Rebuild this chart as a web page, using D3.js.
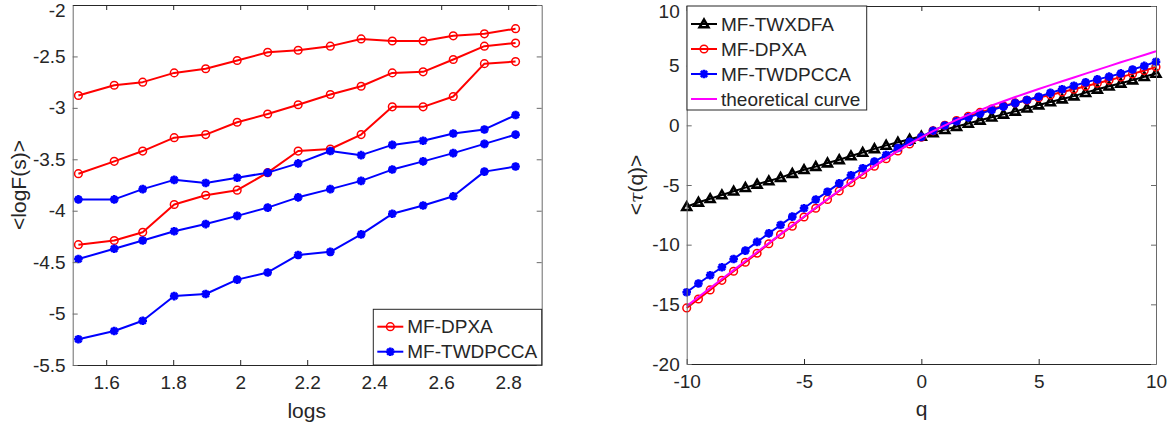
<!DOCTYPE html>
<html><head><meta charset="utf-8">
<script src="https://cdn.jsdelivr.net/npm/d3@7"></script>
<style>
body{margin:0;background:#fff}
svg{display:block}
text{font-family:"Liberation Sans",Arial,Helvetica,sans-serif;fill:#262626}
</style>
</head><body>
<svg id="c" width="1174" height="432"></svg>
<script>
// ---------- Left panel data ----------
const logs = [1.517,1.624,1.709,1.803,1.897,1.991,2.082,2.173,2.269,2.361,2.454,2.546,2.636,2.729,2.822];
const dpxaTop = [-2.88,-2.78,-2.75,-2.66,-2.62,-2.54,-2.46,-2.44,-2.40,-2.33,-2.35,-2.35,-2.30,-2.28,-2.23];
const dpxaMid = [-3.64,-3.52,-3.42,-3.29,-3.26,-3.14,-3.06,-2.97,-2.87,-2.79,-2.66,-2.65,-2.53,-2.40,-2.37];
const dpxaLow = [-4.33,-4.29,-4.21,-3.94,-3.85,-3.80,-3.63,-3.42,-3.40,-3.26,-2.99,-2.99,-2.89,-2.57,-2.55];
const twdTop  = [-3.89,-3.89,-3.79,-3.70,-3.73,-3.68,-3.63,-3.54,-3.42,-3.46,-3.36,-3.32,-3.25,-3.21,-3.07];
const twdMid  = [-4.47,-4.37,-4.29,-4.20,-4.13,-4.05,-3.97,-3.87,-3.79,-3.71,-3.60,-3.52,-3.44,-3.35,-3.26];
const twdLow  = [-5.25,-5.17,-5.07,-4.83,-4.81,-4.67,-4.60,-4.43,-4.40,-4.23,-4.03,-3.95,-3.86,-3.62,-3.57];
const leftXTicks = [1.6,1.8,2,2.2,2.4,2.6,2.8];
const leftYTicks = [-5.5,-5,-4.5,-4,-3.5,-3,-2.5,-2];
const leftLegend = ["MF-DPXA","MF-TWDPCCA"];

// ---------- Right panel data ----------
const q = [-10,-9.5,-9,-8.5,-8,-7.5,-7,-6.5,-6,-5.5,-5,-4.5,-4,-3.5,-3,-2.5,-2,-1.5,-1,-0.5,0,0.5,1,1.5,2,2.5,3,3.5,4,4.5,5,5.5,6,6.5,7,7.5,8,8.5,9,9.5,10];
const tauTWXDFA = [-6.82,-6.45,-6.15,-5.84,-5.52,-5.22,-4.94,-4.66,-4.38,-4.04,-3.72,-3.46,-3.16,-2.89,-2.57,-2.27,-1.97,-1.68,-1.42,-1.17,-0.92,-0.63,-0.36,-0.10,0.16,0.42,0.68,0.92,1.17,1.43,1.70,1.96,2.20,2.45,2.74,3.02,3.28,3.52,3.79,4.07,4.35];
const tauDPXA = [-15.30,-14.55,-13.79,-12.99,-12.23,-11.47,-10.72,-9.92,-9.15,-8.45,-7.68,-6.95,-6.21,-5.50,-4.80,-4.12,-3.43,-2.80,-2.15,-1.56,-1.00,-0.46,0.00,0.40,0.76,1.08,1.37,1.63,1.88,2.10,2.32,2.55,2.79,3.03,3.28,3.53,3.78,4.04,4.31,4.59,4.88];
const tauTWDPCCA = [-13.99,-13.25,-12.56,-11.89,-11.20,-10.50,-9.77,-9.05,-8.35,-7.65,-6.95,-6.22,-5.56,-4.86,-4.18,-3.60,-3.04,-2.48,-1.90,-1.38,-0.97,-0.45,-0.02,0.34,0.67,0.98,1.28,1.57,1.86,2.12,2.40,2.72,3.02,3.32,3.60,3.85,4.08,4.35,4.68,4.98,5.33];
const tauTheory = [-15.15,-14.39,-13.64,-12.88,-12.13,-11.37,-10.62,-9.87,-9.12,-8.38,-7.64,-6.90,-6.18,-5.46,-4.75,-4.06,-3.40,-2.75,-2.14,-1.55,-1.00,-0.48,0.00,0.45,0.88,1.28,1.66,2.02,2.37,2.71,3.04,3.37,3.69,4.01,4.33,4.65,4.96,5.28,5.59,5.90,6.21];
const rightXTicks = [-10,-5,0,5,10];
const rightYTicks = [-20,-15,-10,-5,0,5,10];
const rightLegend = ["MF-TWXDFA","MF-DPXA","MF-TWDPCCA","theoretical curve"];

const RED = "#ff0000", BLUE = "#0000ff", BLACK = "#000000", MAG = "#ff00ff";
const svg = d3.select("#c");
const TICKFS = 19, LEGFS = 19, LABFS = 21;

function markerPath(type){
  if(type==="circle") return d3.symbol(d3.symbolCircle, 46)();
  if(type==="tri"){ const s=4.4; return `M0,${-s}L${s},${s*0.75}L${-s},${s*0.75}Z`; }
  if(type==="star"){ const s=4.3, d=3.1; return `M${-s},0L${s},0M0,${-s}L0,${s}M${-d},${-d}L${d},${d}M${-d},${d}L${d},${-d}`; }
  return "";
}
function markerWidth(type){ return type==="star"?2.6:(type==="tri"?2.6:1.5); }

function drawFrame(g, x, y, xt, yt){
  const [x0,x1] = x.range(), [y0,y1] = y.range();
  const fmt = d => String(d);
  const bottom = g.append("g").attr("transform",`translate(0,${y0})`)
    .call(d3.axisBottom(x).tickValues(xt).tickFormat(fmt).tickSizeInner(-5).tickSizeOuter(0).tickPadding(6));
  const left = g.append("g").attr("transform",`translate(${x0},0)`)
    .call(d3.axisLeft(y).tickValues(yt).tickFormat(fmt).tickSizeInner(-5).tickSizeOuter(0).tickPadding(7));
  const top = g.append("g").attr("transform",`translate(0,${y1})`)
    .call(d3.axisTop(x).tickValues(xt).tickFormat(()=>"").tickSizeInner(-5).tickSizeOuter(0));
  const right = g.append("g").attr("transform",`translate(${x1},0)`)
    .call(d3.axisRight(y).tickValues(yt).tickFormat(()=>"").tickSizeInner(-5).tickSizeOuter(0));
  [bottom,left,top,right].forEach(a=>{
    a.selectAll("path.domain").attr("stroke","#262626").attr("stroke-width",1);
    a.selectAll(".tick line").attr("stroke","#262626").attr("stroke-width",1);
    a.selectAll(".tick text").attr("font-family",'"Liberation Sans",Arial,sans-serif')
      .attr("font-size",TICKFS).attr("fill","#262626");
  });
  left.selectAll("path.domain, .tick line").attr("stroke","#6a6a6a");
  right.selectAll("path.domain, .tick line").attr("stroke","#6a6a6a");
  bottom.selectAll(".tick text").attr("dy","0.95em");
  const ymax = d3.max(yt);
  left.selectAll(".tick text").filter(d=>d===ymax).attr("dy","0.62em");
}

function drawSeries(g, xs, ys, x, y, color, marker){
  const pts = xs.map((v,i)=>[x(v), y(ys[i])]);
  g.append("path").attr("d", d3.line()(pts)).attr("fill","none")
    .attr("stroke",color).attr("stroke-width",2).attr("stroke-linejoin","round");
  if(marker!=="none"){
    g.selectAll(null).data(pts).join("path")
      .attr("transform",d=>`translate(${d[0]},${d[1]})`)
      .attr("d",markerPath(marker)).attr("fill","none")
      .attr("stroke",color).attr("stroke-width", markerWidth(marker));
  }
}

function drawLegend(g, bx0, by0, bx1, by1, entries, rowY0, rowStep){
  g.append("rect").attr("x",bx0).attr("y",by0).attr("width",bx1-bx0).attr("height",by1-by0)
    .attr("fill","#fff").attr("stroke","#262626").attr("stroke-width",1);
  entries.forEach((e,i)=>{
    const yy = rowY0 + i*rowStep;
    const lx0 = bx0+4, lx1 = bx0+30;
    g.append("line").attr("x1",lx0).attr("x2",lx1).attr("y1",yy).attr("y2",yy)
      .attr("stroke",e.color).attr("stroke-width",2);
    if(e.marker!=="none"){
      g.append("path").attr("transform",`translate(${(lx0+lx1)/2},${yy})`)
        .attr("d",markerPath(e.marker)).attr("fill","none").attr("stroke",e.color)
        .attr("stroke-width", markerWidth(e.marker));
    }
    g.append("text").attr("x",lx1+4).attr("y",yy).attr("dy","0.35em")
      .attr("font-size",LEGFS).text(e.label);
  });
}

// ---------- Left panel ----------
{
  const x = d3.scaleLinear().domain([1.5,2.9]).range([72.7,541.7]);
  const y = d3.scaleLinear().domain([-5.5,-2]).range([365,5]);
  const g = svg.append("g");
  [dpxaTop,dpxaMid,dpxaLow].forEach(s=>drawSeries(g, logs, s, x, y, RED, "circle"));
  [twdTop,twdMid,twdLow].forEach(s=>drawSeries(g, logs, s, x, y, BLUE, "star"));
  drawFrame(g, x, y, leftXTicks, leftYTicks);
  drawLegend(g, 373.3, 309.3, 541.7, 365,
    [{label:leftLegend[0],color:RED,marker:"circle"},{label:leftLegend[1],color:BLUE,marker:"star"}], 326.7, 25);
  g.append("text").attr("x",306.7).attr("y",418).attr("text-anchor","middle")
    .attr("font-size",LABFS).text("logs");
  g.append("text").attr("transform","translate(26,185) rotate(-90)").attr("text-anchor","middle")
    .attr("font-size",LABFS).text("<logF(s)>");
}

// ---------- Right panel ----------
{
  const x = d3.scaleLinear().domain([-10,10]).range([686.7,1156]);
  const y = d3.scaleLinear().domain([-20,10]).range([364,6]);
  const g = svg.append("g");
  drawSeries(g, q, tauTWXDFA, x, y, BLACK, "tri");
  drawSeries(g, q, tauDPXA, x, y, RED, "circle");
  drawSeries(g, q, tauTWDPCCA, x, y, BLUE, "star");
  drawSeries(g, q, tauTheory, x, y, MAG, "none");
  drawFrame(g, x, y, rightXTicks, rightYTicks);
  drawLegend(g, 687, 6, 866.7, 110,
    [{label:rightLegend[0],color:BLACK,marker:"tri"},{label:rightLegend[1],color:RED,marker:"circle"},
     {label:rightLegend[2],color:BLUE,marker:"star"},{label:rightLegend[3],color:MAG,marker:"none"}], 24, 25);
  g.append("text").attr("x",921.7).attr("y",416).attr("text-anchor","middle")
    .attr("font-size",LABFS).text("q");
  const t = g.append("text").attr("transform","translate(643,185) rotate(-90)").attr("text-anchor","middle")
    .attr("font-size",LABFS);
  t.append("tspan").text("<");
  t.append("tspan").attr("font-style","italic").attr("font-family",'"DejaVu Serif",serif').attr("font-size",LABFS-2).text("τ");
  t.append("tspan").text("(q)>");
}
</script>
</body></html>
